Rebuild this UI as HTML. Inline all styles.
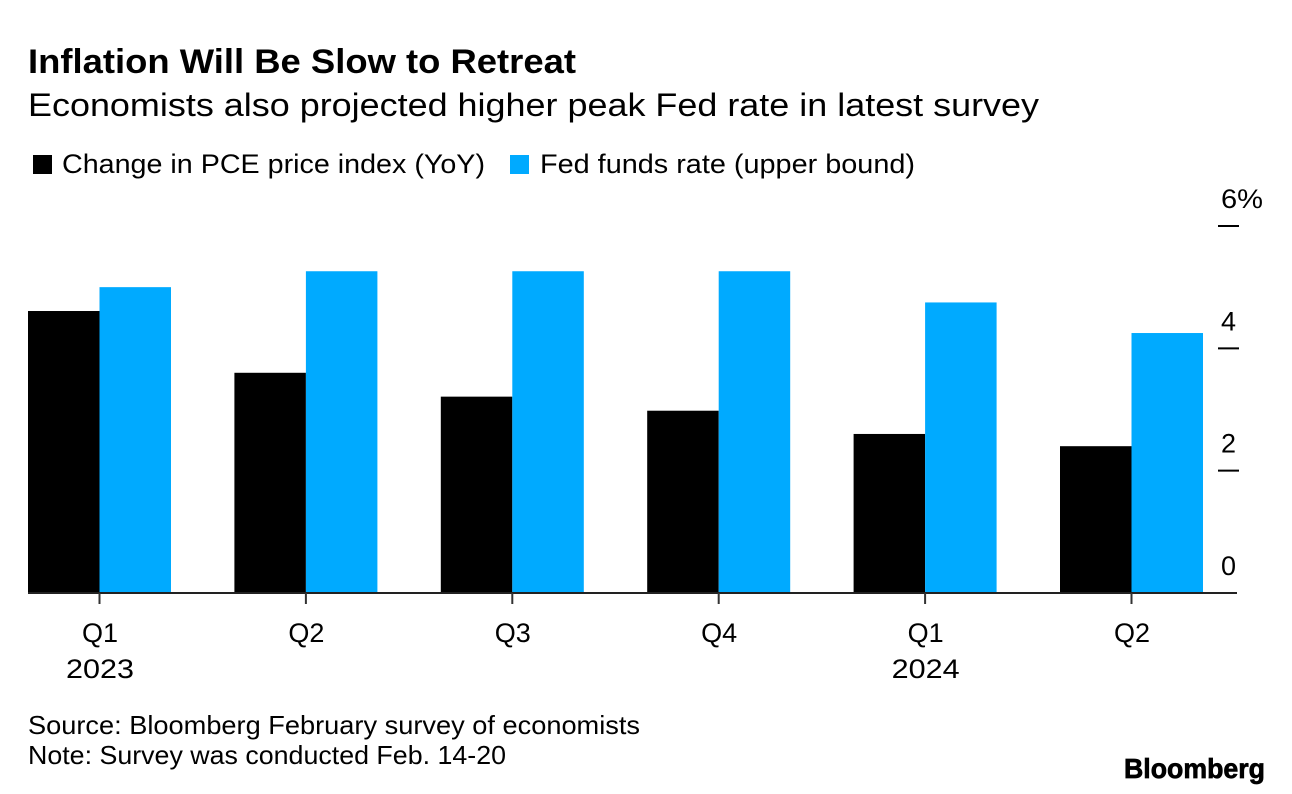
<!DOCTYPE html>
<html>
<head>
<meta charset="utf-8">
<style>
html,body{margin:0;padding:0;background:#fff;}
body{width:1292px;height:794px;overflow:hidden;}
svg{display:block;font-family:"Liberation Sans",sans-serif;}
</style>
</head>
<body>
<svg id="chart" width="1292" height="794" viewBox="0 0 1292 794">
  <text x="28" y="73" font-size="34" font-weight="700" fill="#000" textLength="548" lengthAdjust="spacingAndGlyphs">Inflation Will Be Slow to Retreat</text>
  <text x="28" y="116" font-size="32" fill="#000" textLength="1011" lengthAdjust="spacingAndGlyphs">Economists also projected higher peak Fed rate in latest survey</text>
  <rect x="33" y="155" width="19" height="19" fill="#000"></rect>
  <text x="62" y="173" font-size="27" fill="#000" textLength="423" lengthAdjust="spacingAndGlyphs">Change in PCE price index (YoY)</text>
  <rect x="510" y="155" width="19" height="19" fill="#00aaff"></rect>
  <text x="540" y="173" font-size="27" fill="#000" textLength="375" lengthAdjust="spacingAndGlyphs">Fed funds rate (upper bound)</text>
  <g id="bars"></g>
  <g id="y-axis"></g>
  <g id="x-axis"></g>
  <text x="28" y="734" font-size="26" fill="#000" textLength="612" lengthAdjust="spacingAndGlyphs">Source: Bloomberg February survey of economists</text>
  <text x="28" y="764" font-size="26" fill="#000" textLength="478" lengthAdjust="spacingAndGlyphs">Note: Survey was conducted Feb. 14-20</text>
  <text x="1124" y="778" font-size="28" font-weight="700" fill="#000" stroke="#000" stroke-width="0.7" textLength="141" lengthAdjust="spacingAndGlyphs">Bloomberg</text>
</svg>
<script>
var categories = ["Q1", "Q2", "Q3", "Q4", "Q1", "Q2"];
var yearLabels = ["2023", "", "", "", "2024", ""];
var pceValues = [4.61, 3.6, 3.21, 2.98, 2.6, 2.4];
var fedValues = [5.0, 5.26, 5.26, 5.26, 4.75, 4.25];
var yTicks = [0, 2, 4, 6];
var yTickLabels = ["0", "2", "4", "6%"];

var NS = "http://www.w3.org/2000/svg";
function yScale(v) { return 593 - v * 61.17; }
function groupCenter(i) { return 99.5 + i * 206.4; }
var barWidth = 71.5;

function make(tag, attrs, parent, txt) {
  var el = document.createElementNS(NS, tag);
  for (var k in attrs) el.setAttribute(k, attrs[k]);
  if (txt !== undefined) el.textContent = txt;
  parent.appendChild(el);
  return el;
}

var barsG = document.getElementById("bars");
var yG = document.getElementById("y-axis");
var xG = document.getElementById("x-axis");







categories.forEach(function (c, i) {
  var cx = groupCenter(i);
  var a = make("rect", { x: cx - barWidth, y: yScale(pceValues[i]), width: barWidth, height: yScale(0) - yScale(pceValues[i]), fill: "#000" }, barsG);
  
  
  var b = make("rect", { x: cx, y: yScale(fedValues[i]), width: barWidth, height: yScale(0) - yScale(fedValues[i]), fill: "#00aaff" }, barsG);
  
  
  var m = make("line", { x1: cx, x2: cx, y1: yScale(0), y2: yScale(0) + 11, stroke: "#333", "stroke-width": 2 }, xG);
  
  
  var t = make("text", { x: cx + 0.5, y: 642, "font-size": 27, "text-anchor": "middle", fill: "#000" }, xG, c);
  
  
  if (yearLabels[i]) {
    var y = make("text", { x: cx - 33.5, y: 678, "font-size": 27, fill: "#000", textLength: 68, lengthAdjust: "spacingAndGlyphs" }, xG, yearLabels[i]);
    
    
  }
});

var baseline = make("line", { x1: 28, x2: 1237, y1: yScale(0), y2: yScale(0), stroke: "#222", "stroke-width": 2 }, yG);



yTicks.forEach(function (v, i) {
  var yy = yScale(v);
  if (v !== 0) {
    var l = make("line", { x1: 1218, x2: 1239, y1: yy, y2: yy, stroke: "#000", "stroke-width": 2 }, yG);
    
    
  }
  var attrs = { x: 1221, y: yy - 18, "font-size": 27, fill: "#000" };
  if (yTickLabels[i].length > 1) {
    attrs.textLength = 42;
    attrs.lengthAdjust = "spacingAndGlyphs";
  }
  var t = make("text", attrs, yG, yTickLabels[i]);
  
  
});
</script>
</body>
</html>
